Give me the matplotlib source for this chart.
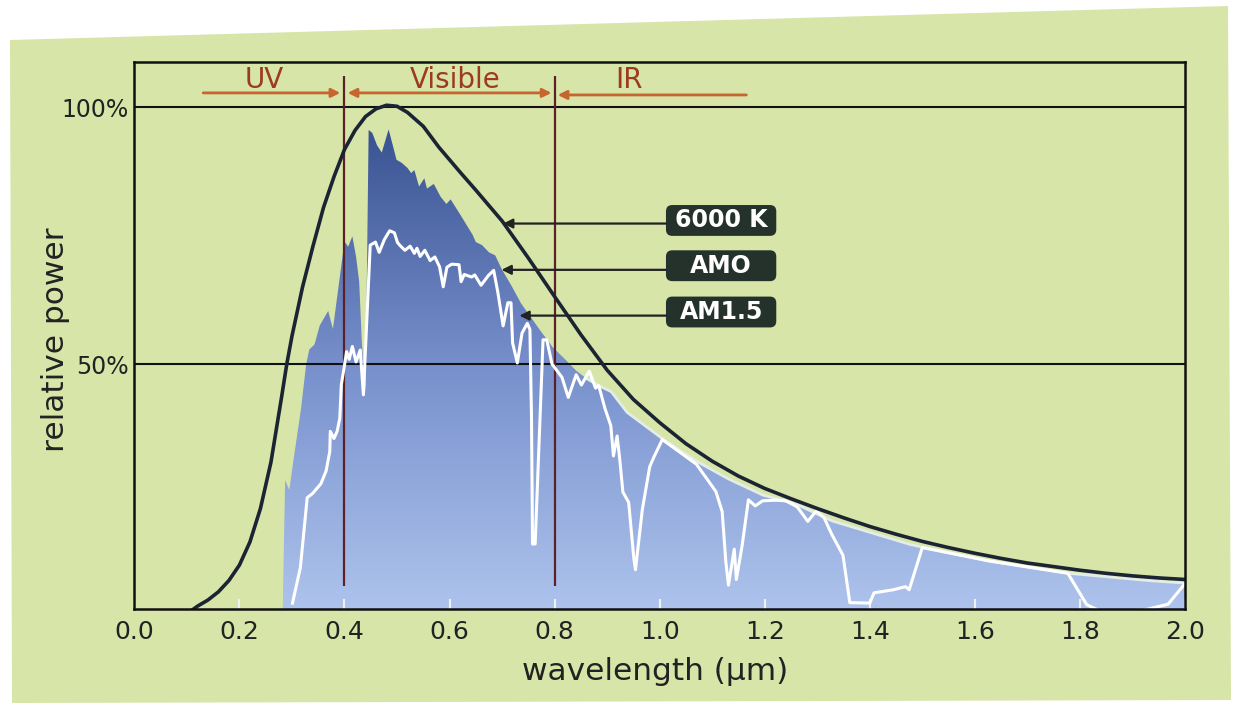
# Solar spectrum: 6000 K black body vs AM0 and AM1.5
import matplotlib.pyplot as plt
import numpy as np
from matplotlib.colors import LinearSegmentedColormap
from matplotlib.patches import FancyBboxPatch, Polygon

# 6000 K black body curve (relative power in %)
bb_x = [0.100, 0.120, 0.140, 0.160, 0.180, 0.200, 0.220, 0.240, 0.260, 0.280,
        0.290, 0.300, 0.320, 0.340, 0.360, 0.380, 0.400, 0.420, 0.440, 0.460,
        0.480, 0.500, 0.520, 0.550, 0.580, 0.620, 0.650, 0.700, 0.750, 0.800,
        0.850, 0.900, 0.950, 1.000, 1.050, 1.100, 1.150, 1.200, 1.250, 1.300,
        1.350, 1.400, 1.450, 1.500, 1.550, 1.600, 1.650, 1.700, 1.750, 1.800,
        1.850, 1.900, 1.950, 2.000]
bb_y = [1.5, 3.0, 4.2, 5.8, 8.0, 11.0, 15.5, 22.0, 31.0, 43.5,
        50.0, 55.5, 65.0, 73.0, 80.5, 86.5, 91.8, 95.5, 98.2, 99.7,
        100.4, 100.2, 99.0, 96.3, 92.2, 87.4, 83.9, 77.9, 70.7, 63.2,
        55.8, 48.9, 43.2, 38.7, 34.6, 31.2, 28.3, 25.9, 23.9, 22.0,
        20.2, 18.5, 17.0, 15.6, 14.4, 13.3, 12.3, 11.4, 10.7, 10.0,
        9.4, 8.9, 8.5, 8.2]

# AM0 spectrum (top edge of the blue area)
am0_x = [0.282, 0.287, 0.295, 0.303, 0.317, 0.327, 0.333, 0.343, 0.353, 0.369,
         0.378, 0.390, 0.400, 0.407, 0.415, 0.422, 0.428, 0.433, 0.440, 0.446,
         0.453, 0.462, 0.471, 0.484, 0.492, 0.499, 0.509, 0.520, 0.527, 0.533,
         0.542, 0.552, 0.557, 0.570, 0.583, 0.594, 0.602, 0.620, 0.644, 0.650,
         0.662, 0.675, 0.687, 0.699, 0.718, 0.736, 0.754, 0.772, 0.796, 0.822,
         0.841, 0.859, 0.884, 0.908, 0.938, 1.009, 1.070, 1.132, 1.197, 1.259,
         1.328, 1.477, 1.627, 1.779, 1.929, 2.000]
am0_y = [0.0, 27.5, 25.6, 31.5, 41.2, 50.0, 52.9, 53.9, 57.6, 60.4,
         56.9, 66.2, 73.9, 72.9, 74.9, 71.0, 66.1, 54.4, 44.7, 95.6,
         95.0, 92.6, 91.2, 95.7, 92.6, 89.8, 89.2, 88.2, 87.2, 87.8,
         84.6, 86.2, 84.2, 85.1, 82.6, 81.2, 82.1, 79.2, 75.2, 73.8,
         73.2, 71.8, 71.2, 68.6, 65.3, 61.9, 59.3, 56.7, 53.4, 50.8,
         48.8, 47.4, 45.9, 44.7, 40.7, 35.3, 31.2, 27.7, 24.6, 22.9,
         19.6, 15.0, 11.8, 9.4, 8.0, 7.5]

# AM1.5 spectrum (white line)
am15_x = [0.301, 0.316, 0.329, 0.339, 0.355, 0.365, 0.372, 0.373, 0.380, 0.386,
          0.391, 0.394, 0.399, 0.404, 0.409, 0.415, 0.422, 0.430, 0.436, 0.449,
          0.459, 0.466, 0.476, 0.486, 0.495, 0.501, 0.506, 0.515, 0.525, 0.533,
          0.538, 0.544, 0.553, 0.563, 0.572, 0.581, 0.588, 0.595, 0.604, 0.618,
          0.622, 0.628, 0.642, 0.648, 0.660, 0.674, 0.684, 0.692, 0.702, 0.711,
          0.717, 0.720, 0.729, 0.738, 0.748, 0.753, 0.756, 0.758, 0.763, 0.778,
          0.785, 0.795, 0.814, 0.826, 0.841, 0.851, 0.866, 0.878, 0.884, 0.896,
          0.907, 0.912, 0.919, 0.924, 0.930, 0.941, 0.951, 0.954, 0.967, 0.981,
          0.989, 1.005, 1.070, 1.089, 1.107, 1.119, 1.126, 1.131, 1.142, 1.146,
          1.157, 1.169, 1.182, 1.196, 1.221, 1.240, 1.262, 1.282, 1.298, 1.313,
          1.328, 1.349, 1.362, 1.400, 1.408, 1.445, 1.468, 1.475, 1.500, 1.627,
          1.777, 1.813, 1.840, 1.920, 1.968, 2.000]
am15_y = [3.6, 10.5, 24.1, 24.9, 26.8, 29.3, 33.1, 37.0, 35.6, 37.0,
          39.5, 46.1, 49.2, 52.5, 51.0, 53.5, 50.5, 52.8, 44.1, 73.2,
          73.8, 71.8, 74.3, 76.0, 75.6, 73.7, 73.1, 72.2, 73.0, 71.6,
          72.6, 71.0, 72.2, 70.2, 70.9, 69.0, 65.1, 68.9, 69.5, 69.4,
          66.1, 67.5, 67.0, 67.4, 65.4, 67.3, 68.3, 64.0, 57.5, 62.0,
          62.0, 54.2, 50.3, 56.1, 58.0, 56.8, 39.9, 15.1, 15.1, 54.8,
          54.8, 50.1, 47.5, 43.6, 48.0, 46.0, 48.7, 45.4, 45.9, 41.4,
          38.1, 32.2, 36.1, 31.6, 25.2, 23.2, 12.1, 10.1, 21.8, 30.1,
          32.0, 35.4, 30.6, 27.9, 25.3, 21.4, 11.6, 7.1, 14.1, 8.2,
          14.8, 23.7, 22.5, 23.5, 23.6, 23.5, 22.3, 19.5, 21.5, 20.2,
          16.9, 12.9, 3.7, 3.6, 5.6, 6.2, 6.8, 6.2, 14.4, 11.8,
          9.4, 3.3, 2.0, 2.2, 3.4, 7.4]

x_ticks = [0.0, 0.2, 0.4, 0.6, 0.8, 1.0, 1.2, 1.4, 1.6, 1.8, 2.0]
y_ticks = [50, 100]
y_tick_labels = ['50%', '100%']

# spectral regions
regions = ['UV', 'Visible', 'IR']
region_bounds = [0.40, 0.80]
region_label_x = [0.248, 0.610, 0.941]

# curve name boxes
curve_names = ['6000 K', 'AMO', 'AM1.5']
box_y = [78.0, 69.2, 60.2]
arrow_y = [77.4, 68.4, 59.5]
arrow_tip_x = [0.702, 0.699, 0.733]

green = '#d7e5a8'
dark_red = '#5e2026'
orange = '#c8642e'
brown_text = '#9c3b20'

fig = plt.figure(figsize=(12.43, 7.09), dpi=100)
fig.patch.set_facecolor('white')

# the scanned page background
W, H = 1243, 709
page = [(10, 40), (1228, 6), (1231, 700), (12, 703)]
fig.patches.append(Polygon([(px / W, 1 - py / H) for px, py in page], closed=True,
                           transform=fig.transFigure, facecolor=green,
                           edgecolor='none', zorder=-10))

ax = fig.add_axes([0.1081, 0.1417, 0.8452, 0.7708])
ax.set_facecolor(green)

# AM0 as gradient filled area
fill = ax.fill_between(am0_x, am0_y, 0, facecolor='none', edgecolor='none')
grad = np.linspace(0, 1, 256).reshape(-1, 1)
cmap = LinearSegmentedColormap.from_list('am0', ['#b0c6ee', '#7790cc', '#344d8c'])
im = ax.imshow(grad, extent=[0, 2, 0, 100], origin='lower', aspect='auto',
               cmap=cmap, zorder=1)
im.set_clip_path(fill.get_paths()[0], transform=ax.transData)

# light rim along AM0 in the IR
am0_arr_x = np.array(am0_x)
am0_arr_y = np.array(am0_y)
rim = am0_arr_x >= 0.85
ax.plot(am0_arr_x[rim], am0_arr_y[rim], color='#e4ece6', lw=2, zorder=1.5)

ax.axhline(50, color='#111111', lw=1.5, zorder=2)
ax.axhline(100, color='#111111', lw=1.5, zorder=2)

ax.vlines(region_bounds, 7, 106, color=dark_red, lw=1.6, zorder=2.5)

ax.plot(am15_x, am15_y, color='white', lw=2.2, zorder=3)
ax.plot(bb_x, bb_y, color='#1b2433', lw=2.6, zorder=4)

# header: UV / Visible / IR
for name, lx in zip(regions, region_label_x):
    ax.text(lx, 105.3, name, color=brown_text, fontsize=20, ha='center', va='center')
arrow_kw = dict(color=orange, lw=2, mutation_scale=13, shrinkA=0, shrinkB=0)
ax.annotate('', xy=(region_bounds[0] - 0.008, 102.8), xytext=(0.131, 102.8),
            arrowprops=dict(arrowstyle='-|>', **arrow_kw))
ax.annotate('', xy=(region_bounds[1] - 0.006, 102.8), xytext=(region_bounds[0] + 0.006, 102.8),
            arrowprops=dict(arrowstyle='<|-|>', **arrow_kw))
ax.annotate('', xy=(region_bounds[1] + 0.006, 102.4), xytext=(1.165, 102.4),
            arrowprops=dict(arrowstyle='-|>', **arrow_kw))

ax.set_xlim(0, 2.0)
ax.set_ylim(2.55, 108.8)

# name boxes with arrows
bb = ax.get_position()
px_x = bb.width * W / 2.0
px_y = bb.height * H / (108.8 - 2.55)
aspect = px_x / px_y
for name, by, ay, tx in zip(curve_names, box_y, arrow_y, arrow_tip_x):
    box = FancyBboxPatch((1.012, by - 3.0), 0.21, 6.0,
                         boxstyle='round,pad=0,rounding_size=0.012',
                         mutation_aspect=aspect, facecolor='#25322c',
                         edgecolor='none', zorder=5)
    ax.add_patch(box)
    ax.text(1.117, by, name, color='white', fontsize=17, fontweight='bold',
            ha='center', va='center', zorder=6)
    ax.annotate('', xy=(tx, ay), xytext=(1.012, ay),
                arrowprops=dict(arrowstyle='-|>', color='#222222', lw=1.6,
                                mutation_scale=14, shrinkA=0, shrinkB=0),
                zorder=5)

ax.set_xticks(x_ticks)
ax.set_xticklabels([f'{t:.1f}' for t in x_ticks])
ax.set_yticks(y_ticks)
ax.set_yticklabels(y_tick_labels)
ax.tick_params(axis='x', direction='in', length=7, width=1.5, color='#eef2f4',
               labelsize=18, pad=8, labelcolor='#222222')
ax.tick_params(axis='y', length=0, labelsize=17, pad=4, labelcolor='#222222')

for s in ax.spines.values():
    s.set_linewidth(1.8)
    s.set_color('#111111')
    s.set_zorder(6)

fig.text(655 / W, 1 - 672 / H, 'wavelength (µm)', fontsize=22.5, color='#222222',
         ha='center', va='center')
fig.text(55 / W, 1 - 340 / H, 'relative power', fontsize=22.5, color='#222222',
         rotation=90, ha='center', va='center')

fig.savefig('out.png', dpi=100, facecolor=fig.get_facecolor())
